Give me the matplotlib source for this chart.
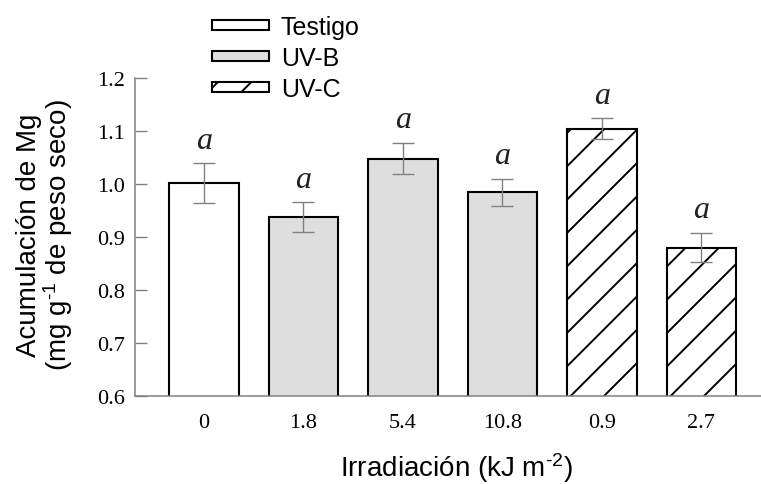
import numpy as np
import matplotlib
matplotlib.use('Agg')
import matplotlib.pyplot as plt

# data
categories = ['0', '1.8', '5.4', '10.8', '0.9', '2.7']
means = [1.002, 0.938, 1.048, 0.984, 1.104, 0.880]
errors = [0.037, 0.028, 0.030, 0.026, 0.020, 0.028]
letters = ['a', 'a', 'a', 'a', 'a', 'a']
groups = ['Testigo', 'UV-B', 'UV-B', 'UV-B', 'UV-C', 'UV-C']
group_names = ['Testigo', 'UV-B', 'UV-C']
yticks = [0.6, 0.7, 0.8, 0.9, 1.0, 1.1, 1.2]

plt.rcParams['font.family'] = ['Liberation Sans', 'DejaVu Sans']
plt.rcParams['mathtext.fontset'] = 'custom'
plt.rcParams['mathtext.rm'] = 'Liberation Sans'
plt.rcParams['mathtext.default'] = 'regular'
plt.rcParams['hatch.linewidth'] = 0.7

# high dpi so the hatch pattern is as coarse as in the original
DPI = 200
fig = plt.figure(figsize=(761 / DPI, 485 / DPI), dpi=DPI)
ax = fig.add_axes([135 / 761, 88 / 485, 626 / 761, 318 / 485])

styles = {
    'Testigo': dict(color='white', hatch=None),
    'UV-B': dict(color='#dedede', hatch=None),
    'UV-C': dict(color='white', hatch='//'),
}

x = np.arange(len(categories))
for g in group_names:
    idx = [i for i, gg in enumerate(groups) if gg == g]
    ax.bar(x[idx], [means[i] for i in idx], width=0.7, bottom=0,
           color=styles[g]['color'], hatch=styles[g]['hatch'],
           edgecolor='black', linewidth=0.75, label=g, zorder=2)

ax.errorbar(x, means, yerr=errors, fmt='none', ecolor='#808080',
            elinewidth=0.5, capsize=3.8, capthick=0.5, zorder=3)

for xi, m, e, l in zip(x, means, errors, letters):
    ax.annotate(l, (xi, m + e), xytext=(0, 5.5), textcoords='offset points',
                ha='center', va='baseline', fontsize=11.5,
                family='Liberation Serif', style='italic', color='#222222')

ax.set_xlim(-0.694, 5.6)
ax.set_ylim(0.6, 1.2)
ax.set_xticks(x)
ax.set_xticklabels(categories, family='Liberation Serif', fontsize=8)
ax.set_yticks(yticks)
ax.set_yticklabels(['%.1f' % t for t in yticks], family='Liberation Serif', fontsize=8)
ax.tick_params(axis='x', length=0, pad=6.3)
ax.tick_params(axis='y', direction='in', length=4.3, width=0.5, color='#808080', pad=3.6)

for s in ['top', 'right']:
    ax.spines[s].set_visible(False)
for s in ['left', 'bottom']:
    ax.spines[s].set_color('#808080')
    ax.spines[s].set_linewidth(0.55)

ax.set_ylabel('Acumulación de Mg\n(mg g$^{\\text{-}1}$ de peso seco)', fontsize=10,
              linespacing=1.0, va='center')
ax.yaxis.set_label_coords(-0.143, 0.509)
ax.set_xlabel('Irradiación (kJ m$^{\\text{-}2}$)', fontsize=10, va='center')
ax.xaxis.set_label_coords(0.513, -0.225)

fig.legend(loc='center left', bbox_to_anchor=(212 / 761, 1 - 59 / 485),
           frameon=False, fontsize=9, handlelength=2.3, handleheight=0.28,
           handletextpad=0.45, labelspacing=0.28, borderpad=0, borderaxespad=0)

plt.savefig('out.png', dpi=DPI)
